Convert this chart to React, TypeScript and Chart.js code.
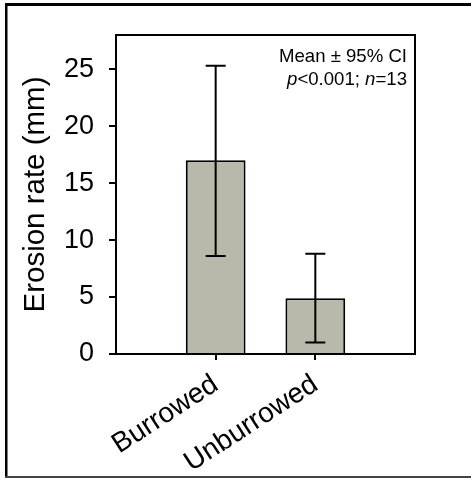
import React, { useEffect, useRef } from 'react';
import { Chart, registerables } from 'chart.js';

Chart.register(...registerables);

const categories = ['Burrowed', 'Unburrowed'];
const meanErosion = [17.0, 4.9];
const ciLower = [8.6, 1.0];
const ciUpper = [25.3, 8.8];
const yTickValues = [0, 5, 10, 15, 20, 25];
const yAxisMax = 28;
const yAxisTitle = 'Erosion rate (mm)';
const noteLine1 = 'Mean ± 95% CI';
const noteLine2 = [
  { text: 'p', italic: true },
  { text: '<0.001; ', italic: false },
  { text: 'n', italic: true },
  { text: '=13', italic: false },
];

const FONT = '"Liberation Sans", Arial, Helvetica, sans-serif';
const W = 471;
const H = 479;

const framePlugin = {
  id: 'frame',
  afterDraw(chart: any) {
    const ctx = chart.ctx;
    ctx.save();
    ctx.fillStyle = '#000';
    ctx.fillRect(5, 3, W - 5, 3);
    ctx.fillRect(5, 3, 2.5, 475);
    ctx.fillStyle = '#444';
    ctx.fillRect(5, 476, W - 5, 2);
    ctx.restore();
  },
};

const boxPlugin = {
  id: 'box',
  afterDatasetsDraw(chart: any) {
    const { ctx, chartArea } = chart;
    const ys = chart.scales.y;
    const meta = chart.getDatasetMeta(0);
    ctx.save();
    ctx.strokeStyle = '#000';
    ctx.lineWidth = 2;
    categories.forEach((_, i) => {
      const el = meta.data[i + 1];
      if (!el) return;
      const x = el.x;
      const yLo = ys.getPixelForValue(ciLower[i]);
      const yHi = ys.getPixelForValue(ciUpper[i]);
      const cap = 10;
      ctx.beginPath();
      ctx.moveTo(x, yLo);
      ctx.lineTo(x, yHi);
      ctx.moveTo(x - cap, yLo);
      ctx.lineTo(x + cap, yLo);
      ctx.moveTo(x - cap, yHi);
      ctx.lineTo(x + cap, yHi);
      ctx.stroke();
    });
    ctx.strokeRect(chartArea.left, chartArea.top, chartArea.right - chartArea.left, chartArea.bottom - chartArea.top);
    const size = 18.6;
    ctx.fillStyle = '#000';
    ctx.textBaseline = 'alphabetic';
    ctx.font = `${size}px ${FONT}`;
    ctx.textAlign = 'right';
    const rx = chartArea.right - 8;
    ctx.fillText(noteLine1, rx, chartArea.top + 27);
    ctx.textAlign = 'left';
    const fonts = noteLine2.map((s) => `${s.italic ? 'italic ' : ''}${size}px ${FONT}`);
    let total = 0;
    const widths = noteLine2.map((s, i) => {
      ctx.font = fonts[i];
      const w = ctx.measureText(s.text).width;
      total += w;
      return w;
    });
    let cx = rx - total;
    noteLine2.forEach((s, i) => {
      ctx.font = fonts[i];
      ctx.fillText(s.text, cx, chartArea.top + 50);
      cx += widths[i];
    });
    ctx.restore();
  },
};

export default function App() {
  const ref = useRef<HTMLCanvasElement | null>(null);
  useEffect(() => {
    if (!ref.current) return;
    const labels = ['', ...categories, ''];
    const data = [null, ...meanErosion, null];
    const chart = new Chart(ref.current, {
      type: 'bar',
      data: {
        labels,
        datasets: [
          {
            data,
            backgroundColor: '#b9b9ab',
            borderColor: '#000',
            borderWidth: 2,
            barPercentage: 0.6,
            categoryPercentage: 1,
          },
        ],
      },
      options: {
        responsive: false,
        animation: false,
        devicePixelRatio: 1,
        layout: { padding: { left: 0, top: 35, right: 56, bottom: 0 }, autoPadding: false },
        plugins: { legend: { display: false }, tooltip: { enabled: false } },
        scales: {
          x: {
            type: 'category',
            offset: false,
            afterFit(scale: any) {
              scale.height = 125;
            },
            grid: {
              offset: false,
              drawOnChartArea: false,
              drawTicks: true,
              tickLength: 6,
              lineWidth: 2,
              color: (c: any) => (c.index === 0 || c.index === labels.length - 1 ? 'rgba(0,0,0,0)' : '#000'),
            },
            border: { display: true, color: '#000', width: 2 },
            ticks: {
              autoSkip: false,
              minRotation: 33,
              maxRotation: 33,
              color: '#000',
              padding: 8,
              font: { family: FONT, size: 28 },
            },
          },
          y: {
            min: 0,
            max: yAxisMax,
            afterFit(scale: any) {
              scale.width = 116;
            },
            afterBuildTicks(scale: any) {
              scale.ticks = yTickValues.map((v) => ({ value: v }));
            },
            grid: {
              drawOnChartArea: false,
              drawTicks: true,
              tickLength: 7,
              lineWidth: 2,
              color: '#000',
            },
            border: { display: true, color: '#000', width: 2 },
            ticks: {
              color: '#000',
              padding: 15,
              font: { family: FONT, size: 27 },
            },
            title: {
              display: true,
              text: yAxisTitle,
              color: '#000',
              font: { family: FONT, size: 29.5 },
              padding: { top: 18, bottom: 0 },
            },
          },
        },
      },
      plugins: [boxPlugin, framePlugin],
    });
    return () => chart.destroy();
  }, []);
  return (
    <div style={{ position: 'absolute', left: 0, top: 0, width: W, height: H, background: '#fff' }}>
      <canvas ref={ref} width={W} height={H} style={{ display: 'block' }} />
    </div>
  );
}
